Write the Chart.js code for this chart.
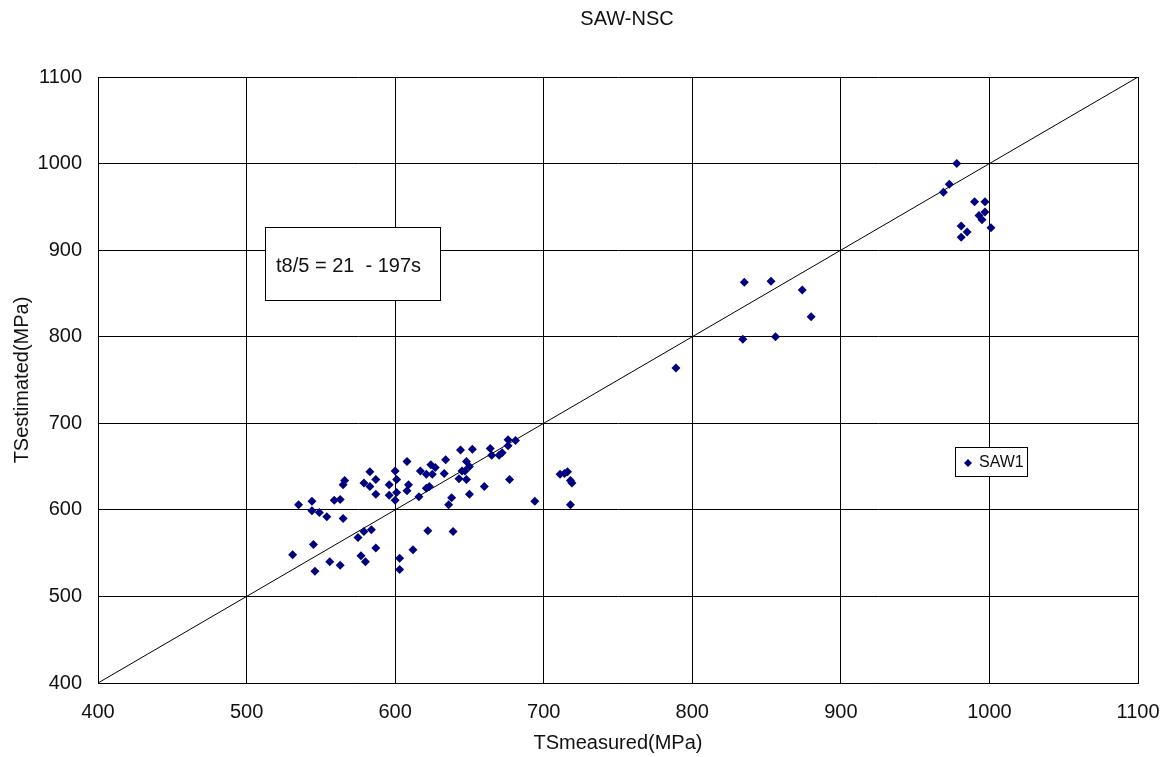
<!DOCTYPE html>
<html>
<head>
<meta charset="utf-8">
<script src="https://cdn.jsdelivr.net/npm/chart.js@4.4.0/dist/chart.umd.min.js"></script>
<style>
  body { margin: 0; background: #fff; }
  canvas { display: block; }
</style>
</head>
<body>
<canvas id="myChart" width="1171" height="757"></canvas>
<script>
// SAW1 data (MPa)
const tsMeasured = [
  644, 608, 600, 583, 617, 624, 627, 634, 621, 625, 633, 645, 648, 566, 565, 579, 583, 587, 596, 601,
  609, 587, 596, 601, 608, 621, 623, 616, 643, 648, 638, 636, 600, 535, 544, 544, 549, 554, 559, 563,
  565, 575, 579, 584, 622, 639, 545, 531, 587, 577, 580, 556, 563, 546, 603, 603, 612,
  676, 681, 676, 652, 664, 665, 670, 672, 650, 647, 677, 660, 650, 694, 711, 716, 714, 718, 719, 718,
  789, 835, 853, 874, 880, 834, 856,
  978, 973, 969, 990, 997, 997, 993, 995, 1001, 981, 985, 981
];
const tsEstimated = [
  669, 656, 645, 644, 645, 652, 649, 658, 641, 641, 642, 645, 656, 634, 629, 631, 627, 635, 629, 635,
  629, 618, 617, 620, 622, 625, 627, 615, 636, 635, 614, 606, 611, 606, 610, 599, 597, 592, 611, 612,
  590, 568, 575, 577, 576, 575, 560, 548, 556, 547, 540, 540, 536, 529, 544, 531, 554,
  681, 680, 674, 670, 671, 663, 663, 666, 650, 645, 635, 627, 618, 610, 641, 644, 642, 634, 631, 606,
  764, 863, 864, 854, 823, 797, 800,
  1000, 976, 967, 956, 956, 944, 940, 935, 926, 928, 921, 915
];
const diagX = [400, 1100];
const diagY = [400, 1100];
const axisMin = 400;
const axisMax = 1100;
const axisStep = 100;

const chartTitle = 'SAW-NSC';
const xTitle = 'TSmeasured(MPa)';
const yTitle = 'TSestimated(MPa)';
const noteText = 't8/5 = 21  - 197s';
const seriesName = 'SAW1';

const FONT = '"Liberation Sans", Arial, sans-serif';
const NAVY = '#000080';
const TXT = '#111';

// title, note box and legend box
const extras = {
  id: 'extras',
  afterDraw(chart) {
    const ctx = chart.ctx;
    const ca = chart.chartArea;
    ctx.save();
    ctx.font = '20px ' + FONT;
    ctx.fillStyle = TXT;
    ctx.textBaseline = 'middle';
    ctx.textAlign = 'center';
    ctx.fillText(chartTitle, (ca.left + ca.right) / 2 + 9, 19);

    // note box
    let bx = ca.left + 167, by = ca.top + 150;
    ctx.fillStyle = '#fff';
    ctx.fillRect(bx, by, 175, 73);
    ctx.strokeStyle = '#000';
    ctx.lineWidth = 1;
    ctx.strokeRect(bx + 0.5, by + 0.5, 175, 73);
    ctx.fillStyle = TXT;
    ctx.textAlign = 'left';
    ctx.fillText(noteText, bx + 11, by + 39);

    // legend box
    bx = ca.left + 857; by = ca.top + 370;
    ctx.fillStyle = '#fff';
    ctx.fillRect(bx, by, 72, 29);
    ctx.strokeRect(bx + 0.5, by + 0.5, 72, 29);
    Chart.helpers.drawPoint(ctx, { pointStyle: 'rectRot', radius: 4, rotation: 0, borderWidth: 0 }, bx + 13, by + 16);
    ctx.fillStyle = NAVY;
    ctx.fill();
    ctx.font = '16px ' + FONT;
    ctx.fillStyle = TXT;
    ctx.fillText(seriesName, bx + 24, by + 16);
    ctx.restore();
  }
};

const tickFont = { family: FONT, size: 20 };

const chart = new Chart(
  document.getElementById('myChart'),
  {
    type: 'scatter',
    data: {
      datasets: [
        {
          label: seriesName,
          data: tsMeasured.map((x, i) => ({ x: x, y: tsEstimated[i] })),
          pointStyle: 'rectRot',
          pointRadius: 4.5,
          pointBackgroundColor: NAVY,
          pointBorderColor: NAVY,
          pointBorderWidth: 0,
          order: 0
        },
        {
          type: 'line',
          label: 'y=x',
          data: diagX.map((x, i) => ({ x: x, y: diagY[i] })),
          borderColor: '#000',
          borderWidth: 1,
          pointRadius: 0,
          fill: false,
          order: 1
        }
      ]
    },
    options: {
      responsive: false,
      animation: false,
      devicePixelRatio: 1,
      layout: { padding: { top: 77, right: 33, left: 0, bottom: 0 } },
      plugins: {
        legend: { display: false },
        title: { display: false },
        tooltip: { enabled: false }
      },
      scales: {
        x: {
          type: 'linear',
          min: axisMin,
          max: axisMax,
          afterFit: (s) => { s.height = 74; s.paddingLeft = 0; s.paddingRight = 0; },
          ticks: { stepSize: axisStep, padding: 17, color: TXT, font: tickFont, callback: (v) => String(v) },
          grid: { color: '#000', lineWidth: 1, drawTicks: false },
          border: { color: '#000', width: 1 },
          title: { display: true, text: xTitle, color: TXT, font: tickFont, padding: { top: 0, bottom: 2 } }
        },
        y: {
          type: 'linear',
          min: axisMin,
          max: axisMax,
          afterFit: (s) => { s.width = 98; s.paddingTop = 0; s.paddingBottom = 0; },
          ticks: { stepSize: axisStep, padding: 16, color: TXT, font: tickFont, callback: (v) => String(v) },
          grid: { color: '#000', lineWidth: 1, drawTicks: false },
          border: { color: '#000', width: 1 },
          title: { display: true, text: yTitle, color: TXT, font: tickFont, padding: { top: 10, bottom: 0 } }
        }
      }
    },
    plugins: [extras]
  }
);
</script>
</body>
</html>
